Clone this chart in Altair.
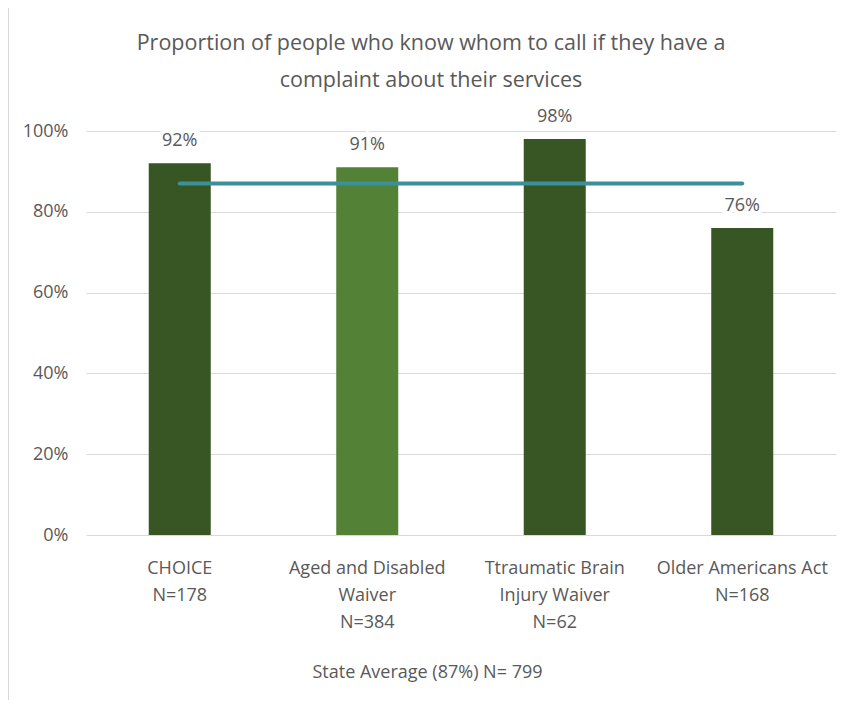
import altair as alt
import pandas as pd

# ---- data ----
categories = ["CHOICE", "Aged and Disabled Waiver", "Ttraumatic Brain Injury Waiver", "Older Americans Act"]
axis_labels = ["CHOICE|N=178", "Aged and Disabled|Waiver|N=384", "Ttraumatic Brain|Injury Waiver|N=62", "Older Americans Act|N=168"]
percent_values = [92, 91, 98, 76]
sample_sizes = [178, 384, 62, 168]
bar_colors = ["#375623", "#538135", "#375623", "#375623"]
state_average = 87
state_n = 799
y_ticks = [0, 0.2, 0.4, 0.6, 0.8, 1.0]

title_lines = ["Proportion of people who know whom to call if they have a",
               "complaint about their services"]
footer = f"State Average ({state_average}%) N= {state_n}"

FONT = "Liberation Sans Narrow, Open Sans, sans-serif"
GREY = "#595959"

df = pd.DataFrame({
    "category": categories,
    "label": axis_labels,
    "value": [v / 100 for v in percent_values],
    "n": sample_sizes,
    "color": bar_colors,
    "avg": [state_average / 100] * len(categories),
})

W, H = 750, 404

x = alt.X("label:N", sort=None,
          scale=alt.Scale(paddingInner=0, paddingOuter=0),
          axis=alt.Axis(title=footer, labelExpr="split(datum.label, '|')",
                        labelAngle=0, labelFontSize=18, labelLineHeight=27,
                        labelColor=GREY, labelFont=FONT, labelPadding=24,
                        ticks=False, domain=False, grid=False,
                        titleFont=FONT, titleFontSize=18, titleFontWeight="normal",
                        titleColor=GREY, titleX=341, titleY=137,
                        titleBaseline="middle", titleAlign="center"))

y = alt.Y("value:Q",
          scale=alt.Scale(domain=[0, 1], nice=False),
          axis=alt.Axis(title=None, values=y_ticks, format=".0%",
                        labelFontSize=18, labelColor=GREY, labelFont=FONT,
                        labelPadding=18, ticks=False, domain=False,
                        grid=True, gridColor="#D9D9D9", gridWidth=1))

base = alt.Chart(df)

bars = base.mark_bar(size=62).encode(
    x=x, y=y,
    color=alt.Color("color:N", scale=None),
)

line = base.mark_line(color="#3B9099", strokeWidth=4, strokeCap="round").encode(
    x=alt.X("label:N", sort=None),
    y=alt.Y("avg:Q"),
)

halo = base.mark_text(fontSize=18, font=FONT, dy=-22, baseline="middle",
                      stroke="white", strokeWidth=8, color="white").encode(
    x=alt.X("label:N", sort=None),
    y=alt.Y("value:Q"),
    text=alt.Text("value:Q", format=".0%"),
)

labels = base.mark_text(fontSize=18, font=FONT, dy=-22, baseline="middle",
                        color=GREY).encode(
    x=alt.X("label:N", sort=None),
    y=alt.Y("value:Q"),
    text=alt.Text("value:Q", format=".0%"),
)

border_left = base.mark_rule(color="#D9D9D9", strokeWidth=1.5).encode(
    x=alt.value(-78), y=alt.value(-126), y2=alt.value(H + 200))
border_top = base.mark_rule(color="#D9D9D9", strokeWidth=1.5).encode(
    x=alt.value(-78), x2=alt.value(W + 40), y=alt.value(-126))

chart = alt.layer(border_left, border_top, bars, halo, labels, line).properties(
    width=W, height=H,
    background="white",
    title=alt.TitleParams(title_lines, fontSize=21.5, font=FONT, color=GREY,
                          fontWeight="normal", lineHeight=37, anchor="middle",
                          dx=-30, offset=-87),
    autosize=alt.AutoSizeParams(type="none"),
    padding={"left": 78, "top": 123, "right": 1, "bottom": 165},
).configure_view(strokeWidth=0, stroke="transparent")

chart.save("out.html", embed_options={"renderer": "svg", "actions": False})
